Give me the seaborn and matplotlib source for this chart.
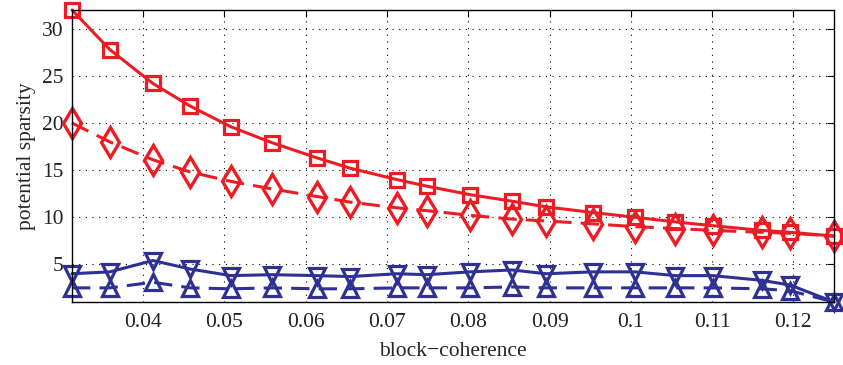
import numpy as np
import pandas as pd
import matplotlib
matplotlib.use("Agg")
import matplotlib.pyplot as plt
import seaborn as sns

# block-coherence values (x)
coherence = [0.03125, 0.0359, 0.0412, 0.0458, 0.0508, 0.0559, 0.0614, 0.0655,
             0.0712, 0.0749, 0.0802, 0.0854, 0.0896, 0.0953, 0.1005, 0.1055,
             0.1101, 0.1161, 0.1196, 0.125]
# red solid squares
red_square = [32.0, 27.8, 24.2, 21.8, 19.6, 17.9, 16.3, 15.2, 14.0, 13.3,
              12.4, 11.7, 11.1, 10.5, 10.0, 9.5, 9.1, 8.6, 8.4, 8.0]
# red dashed diamonds
red_diamond = [20.0, 18.0, 16.1, 14.8, 13.8, 13.0, 12.2, 11.6, 11.0, 10.7,
               10.2, 9.8, 9.6, 9.3, 9.0, 8.8, 8.6, 8.4, 8.3, 8.0]
# blue solid down-triangles
blue_down = [4.0, 4.2, 5.4, 4.5, 3.8, 3.9, 3.8, 3.7, 4.0, 3.9,
             4.2, 4.4, 4.0, 4.2, 4.2, 3.8, 3.8, 3.3, 2.8, 1.0]
# blue dashed up-triangles
blue_up = [2.5, 2.5, 3.1, 2.5, 2.4, 2.5, 2.4, 2.4, 2.5, 2.5,
           2.5, 2.6, 2.5, 2.5, 2.5, 2.5, 2.5, 2.4, 2.2, 1.0]

xticks = [0.04, 0.05, 0.06, 0.07, 0.08, 0.09, 0.1, 0.11, 0.12]
xticklabels = ["0.04", "0.05", "0.06", "0.07", "0.08", "0.09", "0.1", "0.11", "0.12"]
yticks = [5, 10, 15, 20, 25, 30]

sns.set_style("white")
plt.rcParams['font.family'] = ['Liberation Serif', 'DejaVu Serif']

RED = "#ed1c24"
BLUE = "#2e3192"

fig = plt.figure(figsize=(8.43, 3.65), dpi=100)
ax = fig.add_axes([0.0854, 0.1726, 0.9893 - 0.0854, 0.9726 - 0.1726])

df = pd.DataFrame({"x": coherence, "sq": red_square, "di": red_diamond,
                   "dn": blue_down, "up": blue_up})

lw = 2.2
sns.lineplot(data=df, x="x", y="dn", ax=ax, color=BLUE, linewidth=lw,
             marker="v", markersize=12, markerfacecolor="none",
             markeredgecolor=BLUE, markeredgewidth=2.3)
sns.lineplot(data=df, x="x", y="up", ax=ax, color=BLUE, linewidth=lw,
             linestyle=(0, (6, 3)),
             marker="^", markersize=12, markerfacecolor="none",
             markeredgecolor=BLUE, markeredgewidth=2.3)
sns.lineplot(data=df, x="x", y="di", ax=ax, color=RED, linewidth=lw,
             linestyle=(0, (6, 3)),
             marker="d", markersize=15, markerfacecolor="none",
             markeredgecolor=RED, markeredgewidth=2.4)
sns.lineplot(data=df, x="x", y="sq", ax=ax, color=RED, linewidth=lw,
             marker="s", markersize=10.5, markerfacecolor="none",
             markeredgecolor=RED, markeredgewidth=2.3)

for ln in ax.lines:
    ln.set_clip_on(False)

ax.set_xlim(0.03125, 0.125)
ax.set_ylim(1, 32)
ax.set_xticks(xticks)
ax.set_xticklabels(xticklabels)
ax.set_yticks(yticks)
ax.set_xlabel("block\u2212coherence", fontsize=15.5, labelpad=7)
ax.set_ylabel("potential sparsity", fontsize=15.5, labelpad=4)
ax.tick_params(axis="both", direction="in", length=5, width=0.8,
               top=True, right=True, labelsize=15.5, colors="black",
               labelcolor="#222222")
ax.tick_params(axis="x", pad=8)
ax.tick_params(axis="y", pad=6)
ax.grid(True, color="black", linestyle=(0, (1, 5)), linewidth=0.8)
for s in ax.spines.values():
    s.set_visible(True)
    s.set_color("black")
    s.set_linewidth(1.0)
ax.set_axisbelow(True)

fig.savefig("out.png", dpi=100)
